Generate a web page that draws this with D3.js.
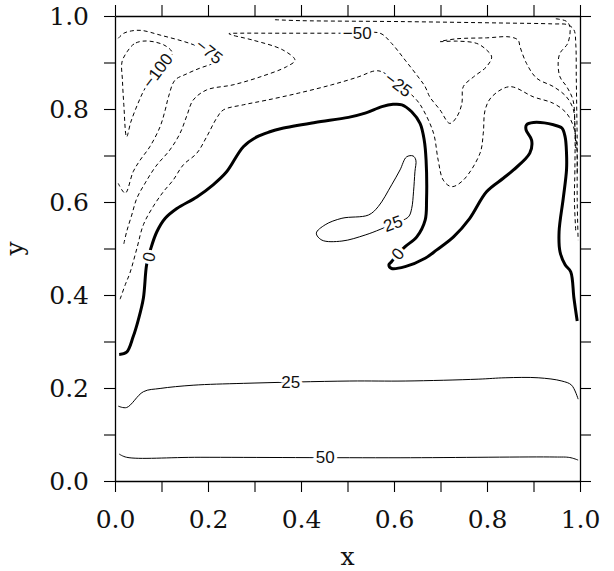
<html>
<head>
<meta charset="UTF-8">
<script src="https://d3js.org/d3.v7.min.js"></script>
<style>
  body { margin: 0; background: #fff; }
  .tick text { font-family: "DejaVu Serif", serif; font-size: 25px; fill: #111; }
  .lab { font-family: "Liberation Sans", Arial, sans-serif; font-size: 17px; fill: #111;
         stroke: #fff; stroke-width: 6px; paint-order: stroke; }
</style>
</head>
<body>
<svg width="614" height="571"></svg>
<script>
// tick values / labels
const tickVals = [0, 0.1, 0.2, 0.3, 0.4, 0.5, 0.6, 0.7, 0.8, 0.9, 1.0];
const tickLabels = ["0.0", "", "0.2", "", "0.4", "", "0.6", "", "0.8", "", "1.0"];

// contour lines, [x, y]
const c50 = [[0.009,0.058],[0.025,0.051],[0.183,0.051],[0.613,0.050],[0.946,0.0516],[0.978,0.0505],[0.996,0.045]];
const c25 = [[0.007,0.161],[0.025,0.158],[0.061,0.192],[0.097,0.199],[0.168,0.206],[0.276,0.210],[0.505,0.215],
  [0.624,0.215],[0.781,0.219],[0.839,0.222],[0.910,0.222],[0.961,0.215],[0.982,0.206],[0.996,0.176]];
const c25loop = [[0.641,0.699],[0.627,0.697],[0.613,0.669],[0.595,0.637],[0.566,0.590],[0.545,0.572],[0.488,0.565],
  [0.452,0.551],[0.433,0.533],[0.445,0.518],[0.488,0.516],[0.538,0.529],[0.570,0.541],[0.598,0.553],[0.631,0.568],
  [0.638,0.586],[0.642,0.622],[0.645,0.665],[0.647,0.690]];
const c0 = [[0.009,0.272],[0.025,0.277],[0.039,0.310],[0.050,0.346],[0.061,0.393],[0.068,0.465],[0.077,0.500],
  [0.090,0.536],[0.108,0.565],[0.133,0.586],[0.176,0.611],[0.211,0.637],[0.240,0.665],[0.276,0.719],[0.305,0.740],
  [0.333,0.751],[0.358,0.758],[0.430,0.771],[0.502,0.782],[0.538,0.791],[0.574,0.805],[0.598,0.810],[0.617,0.809],
  [0.638,0.794],[0.656,0.769],[0.665,0.733],[0.669,0.690],[0.670,0.604],[0.667,0.561],[0.649,0.525],[0.624,0.504],
  [0.606,0.486],[0.595,0.472],[0.589,0.465],[0.595,0.457],[0.624,0.461],[0.667,0.479],[0.692,0.497],[0.728,0.525],
  [0.763,0.565],[0.799,0.622],[0.835,0.651],[0.857,0.669],[0.892,0.705],[0.896,0.733],[0.884,0.755],[0.885,0.766],
  [0.900,0.771],[0.943,0.766],[0.961,0.759],[0.968,0.740],[0.971,0.705],[0.971,0.669],[0.964,0.608],[0.955,0.536],
  [0.957,0.493],[0.968,0.465],[0.980,0.450],[0.987,0.393],[0.994,0.344]];
const cm25 = [[0.011,0.391],[0.022,0.422],[0.032,0.447],[0.047,0.500],[0.061,0.551],[0.082,0.590],[0.104,0.622],
  [0.125,0.647],[0.147,0.680],[0.176,0.705],[0.197,0.740],[0.219,0.781],[0.233,0.798],[0.276,0.809],[0.326,0.819],
  [0.394,0.834],[0.466,0.852],[0.523,0.869],[0.559,0.882],[0.574,0.880],[0.613,0.852],[0.649,0.819],[0.663,0.798],
  [0.685,0.748],[0.695,0.690],[0.706,0.647],[0.724,0.633],[0.749,0.647],[0.785,0.705],[0.792,0.748],[0.796,0.798],
  [0.810,0.826],[0.849,0.848],[0.900,0.826],[0.943,0.812],[0.971,0.791],[0.986,0.762],[0.993,0.719],[0.994,0.658]];
const cm50 = [[0.019,0.510],[0.025,0.536],[0.036,0.572],[0.047,0.608],[0.065,0.641],[0.088,0.677],[0.118,0.712],
  [0.140,0.748],[0.155,0.787],[0.168,0.819],[0.197,0.841],[0.254,0.852],[0.312,0.869],[0.369,0.891],[0.387,0.905],
  [0.361,0.927],[0.297,0.948],[0.252,0.959],[0.245,0.962],[0.269,0.963],[0.333,0.963],[0.488,0.963],[0.520,0.963],
  [0.570,0.963],[0.595,0.941],[0.624,0.905],[0.652,0.869],[0.667,0.848],[0.677,0.826],[0.699,0.798],[0.720,0.769],
  [0.735,0.783],[0.746,0.812],[0.749,0.848],[0.771,0.869],[0.799,0.891],[0.810,0.912],[0.799,0.927],[0.778,0.941],
  [0.735,0.946],[0.699,0.945],[0.735,0.951],[0.799,0.953],[0.849,0.955],[0.867,0.948],[0.871,0.934],[0.885,0.898],
  [0.907,0.866],[0.943,0.848],[0.971,0.826],[0.986,0.798],[0.989,0.762],[0.991,0.712]];
const cm50wall = [[0.948,0.994],[0.970,0.989],[0.978,0.978],[0.974,0.942],[0.957,0.920],[0.953,0.899],[0.957,0.869],
  [0.972,0.847],[0.985,0.819],[0.989,0.763],[0.989,0.669],[0.988,0.604],[0.991,0.535]];
const cm75top = [[0.344,0.992],[0.398,0.990],[0.613,0.988],[0.828,0.985],[0.942,0.983],[0.974,0.981],[0.987,0.970],
  [0.991,0.938],[0.992,0.869],[0.993,0.798],[0.994,0.727],[0.994,0.604],[0.996,0.518]];
const cm75 = [[0.007,0.952],[0.019,0.963],[0.036,0.968],[0.057,0.969],[0.097,0.959],[0.161,0.941],[0.204,0.923],
  [0.226,0.905],[0.209,0.897],[0.183,0.888],[0.153,0.875],[0.129,0.862],[0.115,0.826],[0.108,0.798],[0.097,0.762],
  [0.075,0.719],[0.054,0.690],[0.039,0.665],[0.022,0.619],[0.007,0.640]];
const cm100 = [[0.060,0.946],[0.041,0.940],[0.026,0.923],[0.015,0.901],[0.016,0.862],[0.019,0.809],[0.025,0.740],
  [0.034,0.772],[0.049,0.811],[0.065,0.845],[0.092,0.882],[0.123,0.920],[0.110,0.935],[0.086,0.944]];

const contours = [
  {pts: c50, kind: "thin"}, {pts: c25, kind: "thin"}, {pts: c25loop, kind: "thin", closed: true},
  {pts: c0, kind: "thick"}, {pts: cm25, kind: "dash"}, {pts: cm50, kind: "dash"},
  {pts: cm50wall, kind: "dash"}, {pts: cm75top, kind: "dash"}, {pts: cm75, kind: "dash"},
  {pts: cm100, kind: "dash", closed: true}
];

// inline labels: text, x, y, angle
const labText = ["\u2212100", "\u221275", "\u221250", "\u221225", "25", "0", "0", "25", "50"];
const labX = [0.092, 0.202, 0.521, 0.609, 0.598, 0.074, 0.609, 0.378, 0.452];
const labY = [0.882, 0.923, 0.962, 0.852, 0.553, 0.482, 0.488, 0.212, 0.050];
const labAng = [-53, 38, 0, 37, -20, -78, -50, 0, 0];

const L = 115, R = 580, T = 16, B = 481;
const svg = d3.select("svg");
const sx = d3.scaleLinear().domain([0, 1]).range([L, R]);
const sy = d3.scaleLinear().domain([0, 1]).range([B, T]);

const line = d3.line().x(d => sx(d[0])).y(d => sy(d[1])).curve(d3.curveCatmullRom.alpha(0.5));
const lineC = d3.line().x(d => sx(d[0])).y(d => sy(d[1])).curve(d3.curveCatmullRomClosed.alpha(0.5));

svg.append("g").selectAll("path").data(contours).enter().append("path")
  .attr("d", d => d.closed ? lineC(d.pts) : line(d.pts))
  .attr("fill", "none")
  .attr("stroke", "#000")
  .attr("stroke-width", d => d.kind == "thick" ? 3 : 1)
  .attr("stroke-dasharray", d => d.kind == "dash" ? "4,3" : null)
  .attr("stroke-linejoin", "round");

svg.append("g").selectAll("text").data(labText).enter().append("text")
  .attr("class", "lab")
  .attr("text-anchor", "middle")
  .attr("dominant-baseline", "central")
  .attr("transform", (d, i) => "translate(" + sx(labX[i]) + "," + sy(labY[i]) + ") rotate(" + labAng[i] + ")")
  .text(d => d);

// axes, ticks outward on all four sides
const fmt = (d, i) => tickLabels[i];
function styleAxis(g) {
  g.selectAll(".domain").attr("stroke", "#000").attr("stroke-width", 1.3);
  g.selectAll(".tick line").attr("stroke", "#000").attr("stroke-width", 1.1);
}
svg.append("g").attr("transform", "translate(0," + B + ")")
  .call(d3.axisBottom(sx).tickValues(tickVals).tickFormat(fmt).tickSize(11).tickSizeOuter(0).tickPadding(18))
  .call(styleAxis);
svg.append("g").attr("transform", "translate(" + L + ",0)")
  .call(d3.axisLeft(sy).tickValues(tickVals).tickFormat(fmt).tickSize(11).tickSizeOuter(0).tickPadding(15))
  .call(styleAxis);
svg.append("g").attr("transform", "translate(0," + T + ")")
  .call(d3.axisTop(sx).tickValues(tickVals).tickFormat("").tickSize(11).tickSizeOuter(0))
  .call(styleAxis);
svg.append("g").attr("transform", "translate(" + R + ",0)")
  .call(d3.axisRight(sy).tickValues(tickVals).tickFormat("").tickSize(11).tickSizeOuter(0))
  .call(styleAxis);
svg.selectAll(".tick text").attr("font-family", null).attr("font-size", null);

svg.append("text").attr("x", sx(0.5)).attr("y", 565).attr("text-anchor", "middle")
  .style("font-family", "'DejaVu Serif', serif").style("font-size", "25px").attr("fill", "#111").text("x");
svg.append("text").attr("transform", "translate(23," + sy(0.5) + ") rotate(-90)").attr("text-anchor", "middle")
  .style("font-family", "'DejaVu Serif', serif").style("font-size", "25px").attr("fill", "#111").text("y");
</script>
</body>
</html>
